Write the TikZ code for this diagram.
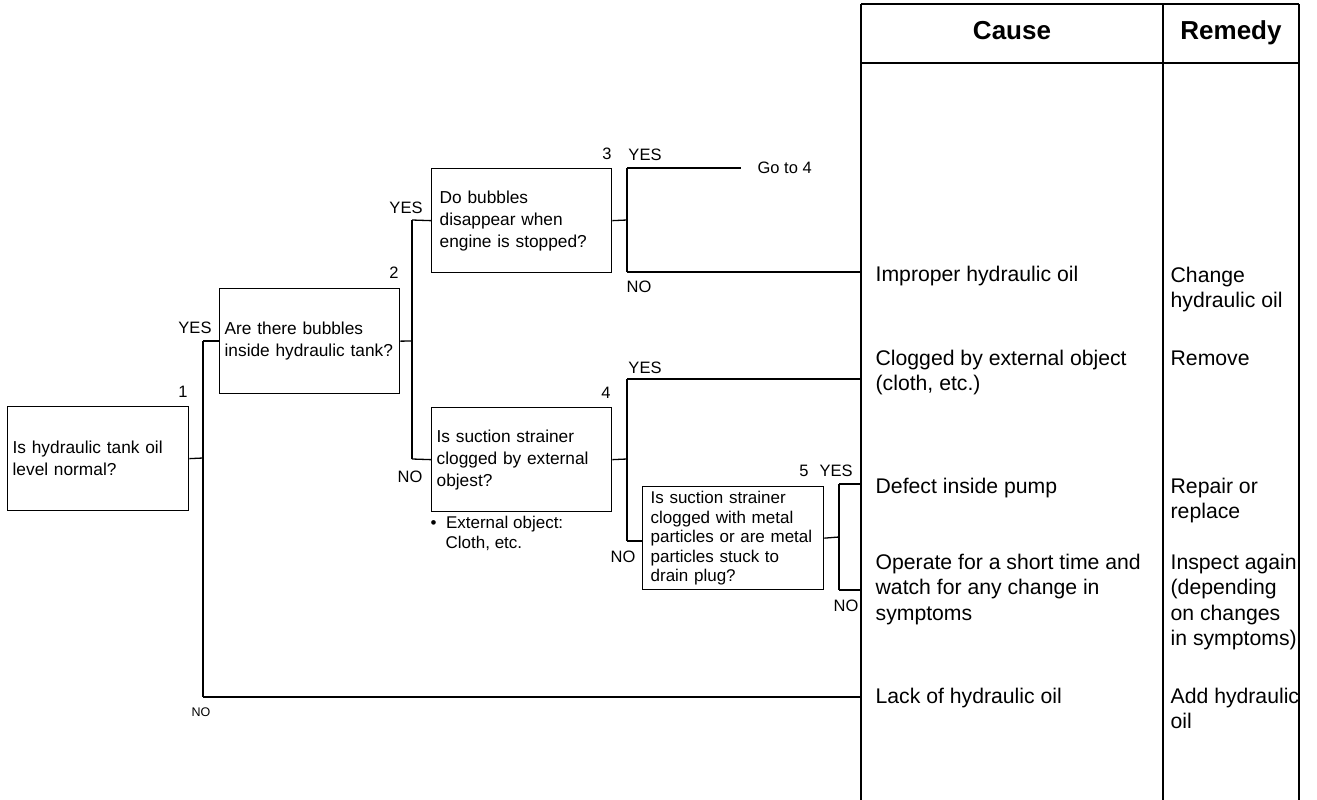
\documentclass[tikz,border=0pt]{standalone}
\usepackage{fontspec}
\setmainfont{Liberation Sans}
\begin{document}
\begin{tikzpicture}[x=1pt,y=-1pt,line width=1.3pt,
  box/.style={draw,line width=1.3pt,align=left,text width=#1,inner xsep=5pt,inner ysep=0pt,
    anchor=north west,font=\fontsize{17.3}{22}\selectfont},
  lab/.style={inner sep=0pt,font=\fontsize{16.5}{20}\selectfont},
  ctext/.style={anchor=base west,align=left,inner sep=0pt,font=\fontsize{21.2}{25.5}\selectfont},
  head/.style={anchor=base,inner sep=0pt,font=\fontsize{26}{30}\selectfont\bfseries},
  note/.style={anchor=base west,align=left,inner sep=0pt,font=\fontsize{17}{19.5}\selectfont}]
\useasboundingbox (0,0) rectangle (1317,800);

% table
\coordinate (tl) at (861,4);
\coordinate (tm) at (1163,4);
\coordinate (tr) at (1299,4);
\draw (tl) -- (tr);
\draw (861,63) -- (1299,63);
\draw (tl) -- (861,800);
\draw (tm) -- (1163,800);
\draw (tr) -- (1299,800);
\node[head] (hc) at (1012,40) {Cause};
\node[head] (hr) at (1231,40) {Remedy};

% (multi-line nodes: base = last line's baseline)
\node[ctext] (c1) at (875,281) {Improper hydraulic oil};
\node[ctext] (c2) at (875,390.5) {Clogged by external object\\(cloth, etc.)};
\node[ctext] (c3) at (875,493) {Defect inside pump};
\node[ctext] (c4) at (875,620) {Operate for a short time and\\watch for any change in\\symptoms};
\node[ctext] (c5) at (875,703) {Lack of hydraulic oil};
\node[ctext] (r1) at (1170,307.5) {Change\\hydraulic oil};
\node[ctext] (r2) at (1170,365) {Remove};
\node[ctext] (r3) at (1170,518.5) {Repair or\\replace};
\node[ctext] (r4) at (1170,645.5) {Inspect again\\(depending\\on changes\\in symptoms)};
\node[ctext] (r5) at (1170,728.5) {Add hydraulic\\oil};

% boxes
\node[box=171pt,minimum height=104pt] (b1) at (7,406) {Is hydraulic tank oil\\level normal?};
\node[box=170pt,minimum height=105pt] (b2) at (219,288) {Are there bubbles\\inside hydraulic tank?};
\node[box=170pt,minimum height=104pt] (b3) at (431,168) {\hspace{3pt}Do bubbles\\\hspace{3pt}disappear when\\\hspace{3pt}engine is stopped?};
\node[box=170pt,minimum height=104pt] (b4) at (431,407) {Is suction strainer\\clogged by external\\objest?};
\node[box=171pt,minimum height=103pt,font=\fontsize{17}{19.5}\selectfont] (b5) at (642,486)
  {\hspace{3pt}Is suction strainer\\\hspace{3pt}clogged with metal\\\hspace{3pt}particles or are metal\\\hspace{3pt}particles stuck to\\\hspace{3pt}drain plug?};

% junctions
\coordinate (j1) at (203,458);
\coordinate (j1t) at (203,341);
\coordinate (j1b) at (203,697);
\coordinate (j2) at (412,341);
\coordinate (j2t) at (412,220);
\coordinate (j2b) at (412,459);
\coordinate (j3) at (627,220);
\coordinate (j3t) at (627,168);
\coordinate (j3b) at (627,272);
\coordinate (g4) at (741,168);
\coordinate (j4) at (627,459);
\coordinate (j4t) at (627,379);
\coordinate (j4b) at (627,541);
\coordinate (j5) at (839,537);
\coordinate (j5t) at (839,484);
\coordinate (j5b) at (839,590);

\draw (b1.east) -- (j1);
\draw (j1t) -- (j1b);
\draw (j1t) -- (j1t -| b2.west);
\draw (j1b) -- (j1b -| tl);
\draw (b2.east) -- (j2);
\draw (j2t) -- (j2b);
\draw (j2t) -- (b3.west);
\draw (j2b) -- (b4.west);
\draw (b3.east) -- (j3);
\draw (j3t) -- (j3b);
\draw (j3t) -- (g4);
\draw (j3b) -- (j3b -| tl);
\draw (b4.east) -- (j4);
\draw (j4t) -- (j4b);
\draw (j4t) -- (j4t -| tl);
\draw (j4b) -- (j4b -| b5.west);
\draw (b5.east) -- (j5);
\draw (j5t) -- (j5b);
\draw (j5t) -- (j5t -| tl);
\draw (j5b) -- (j5b -| tl);

% labels
\node[lab] (n1) at (183,392) {1};
\node[lab] (y1) at (195,328) {YES};
\node[lab,font=\fontsize{12.5}{15}\selectfont] (no1) at (201,712) {NO};
\node[lab] (n2) at (394,273) {2};
\node[lab] (y2) at (406,208) {YES};
\node[lab] (no2) at (410,477) {NO};
\node[lab] (n3) at (607,154) {3};
\node[lab] (y3) at (645,155) {YES};
\node[lab,anchor=west] (go) at (757,168) {Go to 4};
\node[lab] (no3) at (639,287) {NO};
\node[lab] (n4) at (606,393) {4};
\node[lab] (y4) at (645,368) {YES};
\node[lab] (no4) at (623,557) {NO};
\node[lab] (n5) at (804,471) {5};
\node[lab] (y5) at (836,471) {YES};
\node[lab] (no5) at (846,606) {NO};
\node[note] (bul) at (430,548) {\textbullet\ \ External object:\\\hspace{15pt}Cloth, etc.};
\end{tikzpicture}
\end{document}
